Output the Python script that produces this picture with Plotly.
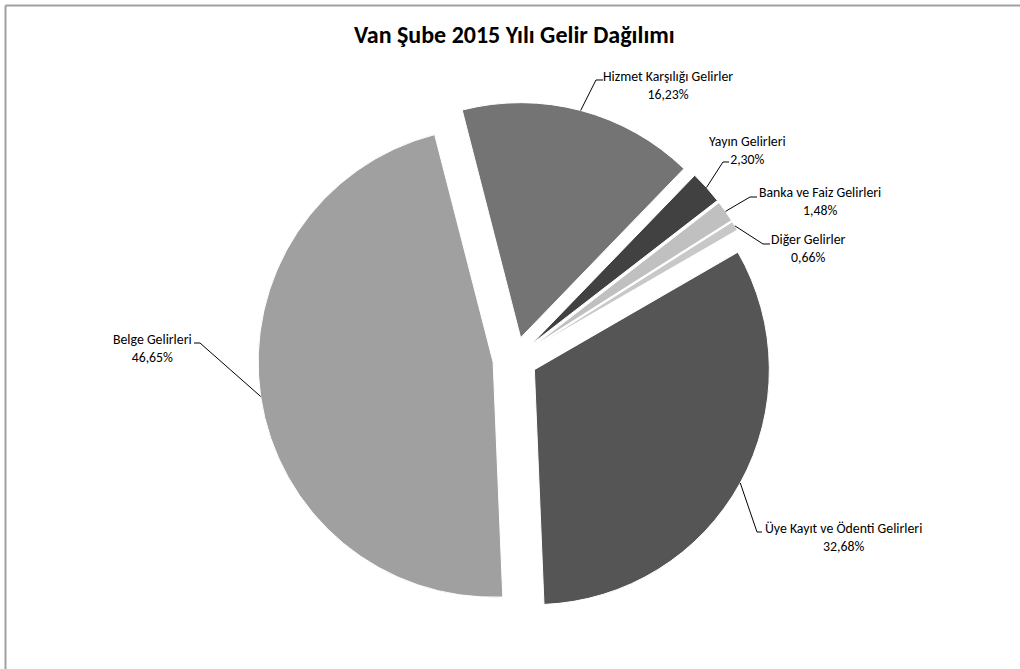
import math
import plotly.graph_objects as go

# Van Şube 2015 income breakdown (percent of total)
categories = [
    "Üye Kayıt ve Ödenti Gelirleri",
    "Belge Gelirleri",
    "Hizmet Karşılığı Gelirler",
    "Yayın Gelirleri",
    "Banka ve Faiz Gelirleri",
    "Diğer Gelirler",
]
shares = [32.68, 46.65, 16.23, 2.30, 1.48, 0.66]
slice_colors = ["#555555", "#a0a0a0", "#747474", "#414141", "#c0c0c0", "#c8c8c8"]

title_text = "Van Şube 2015 Yılı Gelir Dağılımı"

# ---- figure geometry (pixels) ----
W, H = 1020, 669
CX, CY = 515, 359          # pie centre
R = 235                    # slice radius
PULL = 0.094               # explode fraction of radius
ROTATION = 60              # start angle of first slice, clockwise from 12 o'clock
FONT = "Calibri, Carlito, Lato, sans-serif"

# label blocks: text centre, leader knee and leader stub end (pixels)
label_layout = {
    "Hizmet Karşılığı Gelirler": dict(text=(668, 86), knee=(596, 80), stub=(603, 80)),
    "Yayın Gelirleri": dict(text=(747, 150), knee=(723, 162), stub=(729, 162)),
    "Banka ve Faiz Gelirleri": dict(text=(820, 201.5), knee=(750, 197), stub=(757, 197)),
    "Diğer Gelirler": dict(text=(808, 248), knee=(763, 244), stub=(770, 244)),
    "Belge Gelirleri": dict(text=(152, 348.5), knee=(200, 343), stub=(194, 343)),
    "Üye Kayıt ve Ödenti Gelirleri": dict(text=(843, 537.5), knee=(757, 532), stub=(762, 532)),
}


def px(x, y):
    """pixel position -> paper coordinates (margins are zero)"""
    return x / W, 1 - y / H


outer = R * (1 + PULL)
x0, _ = px(CX - outer, 0)
x1, _ = px(CX + outer, 0)
_, y0 = px(0, CY + outer)
_, y1 = px(0, CY - outer)

fig = go.Figure(
    go.Pie(
        labels=categories,
        values=shares,
        sort=False,
        direction="clockwise",
        rotation=ROTATION,
        pull=[PULL] * len(shares),
        marker=dict(colors=slice_colors, line=dict(color="white", width=1)),
        textinfo="none",
        hovertemplate="%{label}: %{value:.2f}%<extra></extra>",
        domain=dict(x=[x0, x1], y=[y0, y1]),
        showlegend=False,
    )
)

annotations = [
    dict(
        text=f"<b>{title_text}</b>",
        x=px(514, 34)[0], y=px(514, 34)[1],
        xref="paper", yref="paper", xanchor="center", yanchor="middle",
        showarrow=False, font=dict(family=FONT, size=24, color="#000000"),
    )
]
shapes = []

total = sum(shares)
cum = 0.0
for name, val in zip(categories, shares):
    mid = math.radians(ROTATION + 360 * (cum + val / 2) / total)
    cum += val
    # point on the arc of the exploded slice, along its bisector
    ax = CX + (PULL * R + R) * math.sin(mid)
    ay = CY - (PULL * R + R) * math.cos(mid)
    spec = label_layout[name]
    tx, ty = spec["text"]
    kx, ky = spec["knee"]
    sx, sy = spec["stub"]
    label = f"{name}<br>{val:.2f}%".replace(".", ",")
    annotations.append(
        dict(
            text=label,
            x=px(tx, ty)[0], y=px(tx, ty)[1],
            xref="paper", yref="paper", xanchor="center", yanchor="middle",
            align="center", showarrow=False,
            font=dict(family=FONT, size=13.8, color="#000000"),
        )
    )
    pts = [px(ax, ay), px(kx, ky), px(sx, sy)]
    path = "M " + " L ".join(f"{p[0]:.5f},{p[1]:.5f}" for p in pts)
    shapes.append(
        dict(type="path", path=path, xref="paper", yref="paper",
             line=dict(color="#000000", width=1))
    )

# chart frame (top and left edges visible)
bx, by = px(5.5, 5.5)
shapes.append(dict(type="line", xref="paper", yref="paper",
                   x0=bx, y0=by, x1=1.02, y1=by,
                   line=dict(color="#a0a0a0", width=2)))
shapes.append(dict(type="line", xref="paper", yref="paper",
                   x0=bx, y0=by, x1=bx, y1=-0.02,
                   line=dict(color="#a0a0a0", width=2)))

fig.update_layout(
    width=W,
    height=H,
    autosize=False,
    margin=dict(l=0, r=0, t=0, b=0),
    paper_bgcolor="white",
    plot_bgcolor="white",
    annotations=annotations,
    shapes=shapes,
    font=dict(family=FONT),
)

fig.write_html("out.html")
